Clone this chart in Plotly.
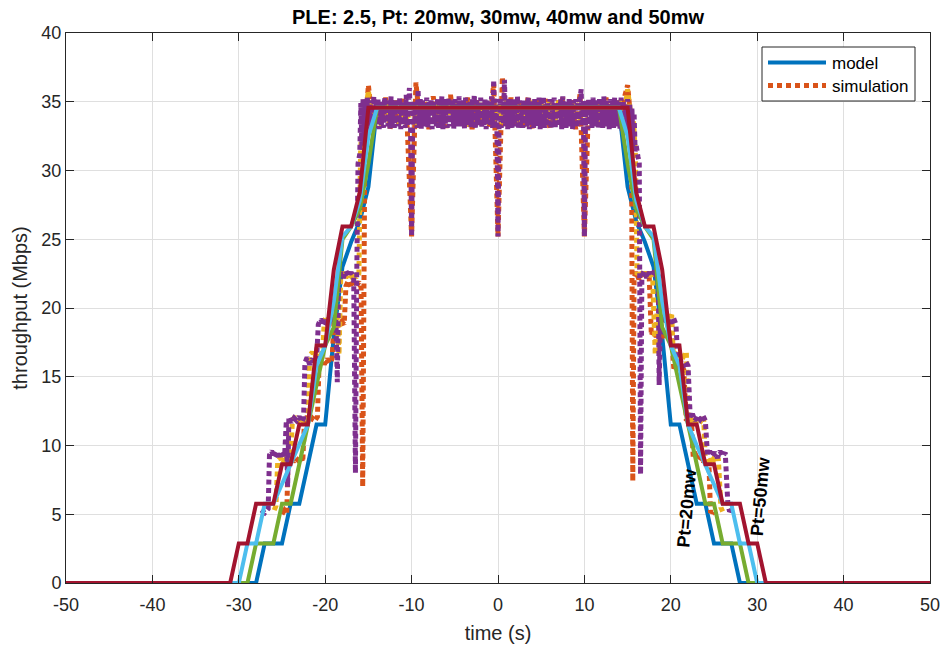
import numpy as np
import plotly.graph_objects as go

# ---------------------------------------------------------------
# Model throughput (Mbps) sampled at |t| = 13 ... 32 s (symmetric about t = 0)
# ---------------------------------------------------------------
model_t_abs = list(range(13, 33))
model_20mw = [34.56, 34.56, 28.8, 26.3, 24.8, 23.0, 18.0, 11.52, 11.52, 8.64,
              5.76, 5.76, 2.88, 2.88, 2.88, 0.0, 0.0, 0.0, 0.0, 0.0]
model_30mw = [34.56, 34.56, 30.5, 27.2, 25.92, 25.0, 18.6, 17.28, 14.4, 11.52,
              8.64, 5.76, 5.76, 2.88, 2.88, 2.88, 0.0, 0.0, 0.0, 0.0]
model_40mw = [34.56, 34.56, 32.5, 27.8, 25.92, 25.2, 20.5, 17.28, 15.8, 11.52,
              10.0, 8.64, 7.2, 5.76, 5.76, 2.88, 2.88, 0.0, 0.0, 0.0]
model_50mw = [34.56, 34.56, 34.56, 28.4, 25.92, 25.92, 22.8, 17.28, 17.28, 11.52,
              11.52, 8.64, 8.64, 5.76, 5.76, 5.76, 2.88, 2.88, 0.0, 0.0]

# ---------------------------------------------------------------
# Simulated throughput (Mbps): leading ramp, plateau, trailing ramp
# ---------------------------------------------------------------
# orange run
sim_a_left_t = [-25.0, -24.7, -24.45, -24.3, -24.0, -23.7, -23.4, -23.1, -22.8, -22.6,
                -22.4, -22.1, -21.8, -21.5, -21.2, -20.9, -20.7, -20.4, -20.1, -19.8,
                -19.5, -19.2, -19.0, -18.7, -18.4, -18.1, -17.8, -17.6, -17.3, -17.0,
                -16.7, -16.4, -16.1, -15.85, -15.66, -15.4]
sim_a_left_y = [5.0, 5.3, 5.1, 8.9, 9.2, 8.8, 9.1, 8.9, 9.2, 8.8,
                11.8, 12.1, 11.7, 12.0, 11.8, 12.1, 16.1, 16.4, 15.9, 16.3,
                16.0, 16.3, 18.8, 19.1, 18.7, 19.0, 18.8, 21.6, 22.0, 21.5,
                21.9, 21.6, 21.9, 21.5, 7.0, 33.0]
sim_a_plateau_start, sim_a_plateau_step = -15.0, 0.5
sim_a_plateau = [36.2, 33.2, 35.0, 33.5, 35.3, 33.0, 35.1, 33.4,
                 35.2, 33.1, 25.2, 36.4, 33.2, 35.1, 33.0, 35.4,
                 33.3, 35.2, 33.1, 35.5, 33.2, 35.0, 33.4, 35.3,
                 33.0, 35.2, 33.3, 35.1, 33.2, 36.3, 25.2, 36.8,
                 33.1, 35.3, 33.4, 35.0, 33.2, 35.4, 33.0, 35.1,
                 33.3, 35.2, 33.1, 35.0, 33.4, 35.3, 33.2, 35.1,
                 33.0, 35.6, 25.2, 35.2, 33.3, 35.0, 33.1, 35.3,
                 33.2, 35.1, 33.4, 35.0, 36.2]
sim_a_right_t = [15.45, 15.6, 15.75, 16.0, 16.3, 16.6, 16.9, 17.2, 17.5, 17.75,
                 18.0, 18.3, 18.6, 18.9, 19.2, 19.5, 19.8, 20.1, 20.35, 20.6,
                 20.9, 21.2, 21.5, 21.8, 22.1, 22.4, 22.6, 22.9, 23.2, 23.5,
                 23.8, 24.1, 24.4, 24.6, 24.9, 25.2]
sim_a_right_y = [33.2, 7.4, 22.2, 22.6, 22.1, 22.5, 22.2, 22.6, 22.3, 18.0,
                 18.4, 17.9, 18.3, 17.8, 18.2, 17.9, 18.3, 17.8, 15.6, 15.9,
                 15.4, 15.8, 15.5, 11.8, 12.1, 11.7, 9.1, 9.3, 8.9, 9.2,
                 8.8, 9.1, 8.9, 5.1, 5.3, 5.0]

# yellow run
sim_b_left_t = [-25.9, -25.7, -25.5, -25.2, -24.9, -24.6, -24.3, -24.0, -23.8, -23.5,
                -23.2, -22.9, -22.6, -22.3, -22.0, -21.8, -21.5, -21.2, -20.9, -20.6,
                -20.3, -20.1, -19.8, -19.5, -19.2, -18.9, -18.6, -18.4, -18.2, -17.9,
                -17.6, -17.3, -17.0, -16.7, -16.4, -16.1, -15.9, -15.7]
sim_b_left_y = [5.3, 5.6, 8.8, 9.1, 8.7, 9.0, 8.8, 9.1, 11.8, 12.1,
                11.7, 12.0, 11.8, 12.1, 11.9, 16.5, 16.8, 16.4, 16.7, 16.5,
                16.8, 19.1, 19.4, 19.0, 19.3, 19.0, 19.3, 16.6, 22.3, 22.6,
                22.2, 22.5, 22.3, 22.6, 22.2, 22.5, 31.5, 33.6]
sim_b_plateau_start, sim_b_plateau_step = -15.5, 0.5
sim_b_plateau = [33.6, 35.8, 33.4, 35.0, 33.2, 34.9, 33.5, 35.1,
                 33.3, 34.8, 33.6, 35.0, 33.2, 35.1, 33.4, 34.9,
                 33.5, 35.0, 33.3, 34.8, 33.6, 35.2, 33.4, 34.9,
                 33.2, 35.1, 33.5, 34.9, 33.3, 35.0, 33.6, 34.8,
                 33.4, 35.1, 33.2, 34.9, 33.5, 35.0, 33.3, 35.2,
                 33.6, 34.8, 33.4, 35.0, 33.2, 35.1, 33.5, 34.9,
                 33.3, 35.0, 33.6, 34.9, 33.4, 35.1, 33.2, 35.0,
                 33.5, 34.8, 33.3, 35.2, 33.6, 35.9, 33.4]
sim_b_right_t = [15.7, 15.9, 16.1, 16.4, 16.7, 17.0, 17.3, 17.6, 17.9, 18.2,
                 18.4, 18.6, 18.9, 19.2, 19.5, 19.8, 20.1, 20.3, 20.6, 20.9,
                 21.2, 21.5, 21.8, 22.0, 22.3, 22.6, 22.9, 23.2, 23.5, 23.8,
                 24.0, 24.3, 24.6, 24.9, 25.2, 25.5, 25.8, 26.0]
sim_b_right_y = [33.4, 31.2, 22.4, 22.7, 22.2, 22.6, 22.3, 22.7, 22.2, 16.6,
                 19.6, 19.2, 19.5, 19.1, 19.4, 19.2, 19.5, 16.5, 16.8, 16.4,
                 16.7, 16.5, 16.8, 12.0, 11.8, 12.1, 11.7, 12.0, 11.8, 12.1,
                 8.8, 9.1, 8.7, 9.0, 8.8, 9.1, 5.5, 5.2]

# purple run
sim_c_left_t = [-27.4, -27.0, -26.6, -26.45, -26.2, -25.9, -25.6, -25.3, -25.0, -24.7,
                -24.5, -24.35, -24.2, -23.9, -23.6, -23.3, -23.0, -22.7, -22.5, -22.35,
                -22.1, -21.8, -21.5, -21.2, -21.0, -20.8, -20.5, -20.2, -19.9, -19.6,
                -19.3, -19.0, -18.75, -18.6, -18.45, -18.2, -17.9, -17.6, -17.3, -17.0,
                -16.7, -16.5, -16.35, -16.2]
sim_c_left_y = [5.3, 5.1, 5.4, 9.3, 9.6, 9.1, 9.5, 9.2, 9.6, 9.2,
                11.8, 7.0, 12.1, 11.7, 12.0, 11.8, 12.1, 11.7, 12.0, 16.0,
                16.4, 15.9, 16.3, 16.0, 16.2, 18.8, 19.2, 18.7, 19.1, 18.8,
                19.3, 18.9, 19.1, 14.6, 22.1, 22.6, 22.2, 22.7, 22.3, 22.6,
                22.2, 8.0, 22.4, 30.5]
sim_c_plateau_start, sim_c_plateau_step = -16.0, 0.125
sim_c_plateau = [
    31.2, 34.9, 31.8, 35.2, 32.4, 35.0, 32.9, 35.3, 33.2, 34.8, 33.0, 35.1, 33.3, 35.4, 33.1, 34.9,
    33.4, 35.2, 33.0, 35.0, 33.3, 34.8, 33.1, 35.3, 33.5, 35.0, 33.2, 35.1, 33.0, 35.4, 33.3, 34.9,
    33.1, 35.2, 33.4, 35.0, 33.2, 35.3, 33.0, 35.1, 33.3, 34.9, 33.1, 35.5, 33.2, 35.0, 36.0, 33.3,
    25.2, 33.2, 35.1, 33.4, 35.0, 33.1, 35.9, 33.3, 35.2, 33.0, 35.1, 33.4, 34.9, 33.2, 35.3, 33.1,
    35.0, 33.3, 35.2, 33.0, 35.1, 33.4, 34.8, 33.2, 35.3, 33.1, 35.0, 33.3, 35.4, 33.0, 35.2, 33.4,
    34.9, 33.1, 35.3, 33.2, 35.0, 33.4, 35.1, 33.0, 35.2, 33.3, 34.8, 33.1, 35.4, 33.2, 35.0, 33.4,
    35.1, 33.0, 35.3, 33.2, 34.9, 33.4, 35.0, 33.1, 35.2, 33.3, 35.5, 33.0, 35.1, 33.4, 34.8, 33.2,
    35.3, 33.1, 35.0, 33.3, 35.2, 33.0, 35.1, 33.4, 35.0, 33.2, 35.4, 33.1, 36.6, 33.3, 35.2, 33.0,
    25.2, 33.2, 35.3, 33.1, 35.0, 33.4, 36.6, 33.2, 35.1, 33.0, 35.3, 33.3, 34.9, 33.1, 35.2, 33.4,
    35.0, 33.2, 35.4, 33.0, 35.1, 33.3, 34.8, 33.1, 35.2, 33.4, 35.0, 33.2, 35.3, 33.0, 35.1, 33.3,
    34.9, 33.1, 35.2, 33.4, 35.0, 33.2, 35.3, 33.0, 35.1, 33.3, 35.4, 33.1, 34.8, 33.2, 35.0, 33.4,
    35.2, 33.0, 35.1, 33.3, 35.3, 33.1, 34.9, 33.4, 35.0, 33.2, 35.2, 33.0, 35.4, 33.3, 35.1, 33.1,
    35.0, 33.4, 35.3, 33.2, 34.9, 33.0, 35.1, 33.3, 35.2, 33.1, 35.0, 33.4, 35.3, 35.9, 33.2, 35.1,
    25.2, 33.3, 35.1, 33.0, 35.2, 33.4, 35.0, 33.1, 35.3, 33.2, 34.9, 33.4, 35.1, 33.0, 35.2, 33.3,
    35.0, 33.1, 35.4, 33.2, 35.1, 33.4, 34.8, 33.0, 35.2, 33.3, 35.0, 33.1, 35.3, 33.2, 35.1, 33.4,
    35.0, 33.0, 35.3, 32.9, 35.1, 33.2, 34.8, 32.6, 35.2, 32.4, 34.9, 32.0, 34.6, 31.6, 34.2, 31.4,
    31.8]
sim_c_right_t = [16.2, 16.35, 16.5, 16.65, 16.9, 17.2, 17.5, 17.8, 18.1, 18.4,
                 18.55, 18.65, 18.8, 19.1, 19.4, 19.7, 20.0, 20.3, 20.6, 20.85,
                 21.1, 21.4, 21.7, 22.0, 22.25, 22.5, 22.8, 23.1, 23.4, 23.7,
                 24.0, 24.25, 24.5, 24.8, 25.1, 25.4, 25.7, 26.0, 26.3, 26.6,
                 26.8, 27.1]
sim_c_right_y = [31.0, 30.6, 7.9, 22.3, 22.7, 22.2, 22.6, 22.3, 22.7, 22.2,
                 22.5, 14.4, 19.0, 19.3, 18.8, 19.2, 18.9, 19.3, 18.8, 15.8,
                 16.2, 15.7, 16.1, 15.8, 12.0, 12.3, 11.8, 12.2, 11.9, 12.2,
                 11.8, 9.3, 9.6, 9.2, 9.5, 9.1, 9.6, 9.2, 9.5, 5.8,
                 5.2, 5.4]

x_ticks = [-50, -40, -30, -20, -10, 0, 10, 20, 30, 40, 50]
x_tick_text = ["-50", "-40", "-30", "-20", "-10", "0", "10", "20", "30", "40", "50"]
y_ticks = [0, 5, 10, 15, 20, 25, 30, 35, 40]

# MATLAB default line colours
C_BLUE, C_ORANGE, C_YELLOW, C_PURPLE = "#0072BD", "#D95319", "#EDB120", "#7E2F8E"
C_GREEN, C_LIGHTBLUE, C_RED = "#77AC30", "#4DBEEE", "#A2142F"
AXIS_COL = "#262626"
FONT = "Liberation Sans, Arial, Helvetica, sans-serif"
MODEL_W = 4
SIM_W, SIM_DASH = 5, "5px,3.5px"

# plot-area geometry in pixels (used to place the key box)
W, H = 944, 648
M_L, M_R, M_T, M_B = 66, 14, 33, 65
PW, PH = W - M_L - M_R, H - M_T - M_B


def px_to_paper(px, py):
    return (px - M_L) / PW, 1 - (py - M_T) / PH


def mirrored_model(values):
    """Full time/throughput arrays for a model curve given at |t|."""
    t_abs = np.asarray(model_t_abs, dtype=float)
    v = np.asarray(values, dtype=float)
    t = np.concatenate([[-50.0], -t_abs[::-1], t_abs, [50.0]])
    y = np.concatenate([[0.0], v[::-1], v, [0.0]])
    return t, y


def sim_series(left_t, left_y, p_start, p_step, plateau, right_t, right_y):
    p_t = p_start + p_step * np.arange(len(plateau))
    t = np.concatenate([left_t, p_t, right_t])
    y = np.concatenate([left_y, plateau, right_y])
    return t, y


def model_trace(values, color, name):
    t, y = mirrored_model(values)
    return go.Scatter(x=t, y=y, mode="lines", name=name, showlegend=False,
                      line=dict(color=color, width=MODEL_W), cliponaxis=False,
                      hoverinfo="skip")


def sim_trace(series, color, name):
    t, y = sim_series(*series)
    return go.Scatter(x=t, y=y, mode="lines", name=name, showlegend=False,
                      line=dict(color=color, width=SIM_W, dash=SIM_DASH, simplify=False),
                      hoverinfo="skip")


fig = go.Figure()
fig.add_trace(model_trace(model_20mw, C_BLUE, "model 20mw"))
fig.add_trace(sim_trace((sim_a_left_t, sim_a_left_y, sim_a_plateau_start, sim_a_plateau_step,
                         sim_a_plateau, sim_a_right_t, sim_a_right_y), C_ORANGE, "simulation"))
fig.add_trace(sim_trace((sim_b_left_t, sim_b_left_y, sim_b_plateau_start, sim_b_plateau_step,
                         sim_b_plateau, sim_b_right_t, sim_b_right_y), C_YELLOW, "simulation"))
fig.add_trace(sim_trace((sim_c_left_t, sim_c_left_y, sim_c_plateau_start, sim_c_plateau_step,
                         sim_c_plateau, sim_c_right_t, sim_c_right_y), C_PURPLE, "simulation"))
fig.add_trace(model_trace(model_30mw, C_GREEN, "model 30mw"))
fig.add_trace(model_trace(model_40mw, C_LIGHTBLUE, "model 40mw"))
fig.add_trace(model_trace(model_50mw, C_RED, "model 50mw"))

# power labels beside the inner and outer model curves
fig.add_annotation(x=21.9, y=5.5, xref="x", yref="y", text="<b>Pt=20mw</b>",
                   showarrow=False, textangle=-85,
                   font=dict(family=FONT, size=18, color="black"))
fig.add_annotation(x=30.4, y=6.3, xref="x", yref="y", text="<b>Pt=50mw</b>",
                   showarrow=False, textangle=-85,
                   font=dict(family=FONT, size=18, color="black"))

# key box: framed, with a solid and a dotted sample line
bx0, by1 = px_to_paper(762, 47)
bx1, by0 = px_to_paper(915, 101)
lx0, ly_model = px_to_paper(768, 62.5)
lx1, ly_sim = px_to_paper(826, 85.5)
tx, ty_model = px_to_paper(830, 63)
_, ty_sim = px_to_paper(830, 86.5)
fig.add_shape(type="rect", xref="paper", yref="paper", x0=bx0, x1=bx1, y0=by0, y1=by1,
              fillcolor="white", line=dict(color=AXIS_COL, width=1), layer="above")
fig.add_shape(type="line", xref="paper", yref="paper", x0=lx0, x1=lx1,
              y0=ly_model, y1=ly_model, line=dict(color=C_BLUE, width=MODEL_W),
              layer="above")
fig.add_shape(type="line", xref="paper", yref="paper", x0=lx0, x1=lx1,
              y0=ly_sim, y1=ly_sim, line=dict(color=C_ORANGE, width=SIM_W, dash="5px,4px"),
              layer="above")
fig.add_annotation(x=tx, y=ty_model, xref="paper", yref="paper", text="model",
                   showarrow=False, xanchor="left", yanchor="middle",
                   font=dict(family=FONT, size=17, color="black"))
fig.add_annotation(x=tx, y=ty_sim, xref="paper", yref="paper", text="simulation",
                   showarrow=False, xanchor="left", yanchor="middle",
                   font=dict(family=FONT, size=17, color="black"))

axis_common = dict(
    showgrid=True, gridcolor="#dfdfdf", gridwidth=1, zeroline=False,
    showline=True, linecolor=AXIS_COL, linewidth=1, mirror="ticks",
    ticks="inside", ticklen=8, tickcolor=AXIS_COL, tickwidth=1,
    tickfont=dict(family=FONT, size=18, color=AXIS_COL),
    automargin=False,
)

fig.update_layout(
    width=W, height=H,
    margin=dict(l=M_L, r=M_R, t=M_T, b=M_B),
    paper_bgcolor="white", plot_bgcolor="white",
    font=dict(family=FONT, color=AXIS_COL, size=18),
    title=dict(text="<b>PLE: 2.5, Pt: 20mw, 30mw, 40mw and 50mw</b>",
               x=0.5, xref="paper", xanchor="center",
               y=0.973, yref="container", yanchor="middle",
               font=dict(family=FONT, size=20, color="black")),
    xaxis=dict(range=[-50, 50], tickvals=x_ticks, ticktext=x_tick_text,
               ticklabelstandoff=5,
               title=dict(text="time (s)", standoff=12,
                          font=dict(family=FONT, size=20, color=AXIS_COL)),
               **axis_common),
    yaxis=dict(range=[0, 40], tickvals=y_ticks,
               title=dict(text="throughput (Mbps)", standoff=8,
                          font=dict(family=FONT, size=20, color=AXIS_COL)),
               **axis_common),
    showlegend=False,
)

fig.write_html("out.html")
